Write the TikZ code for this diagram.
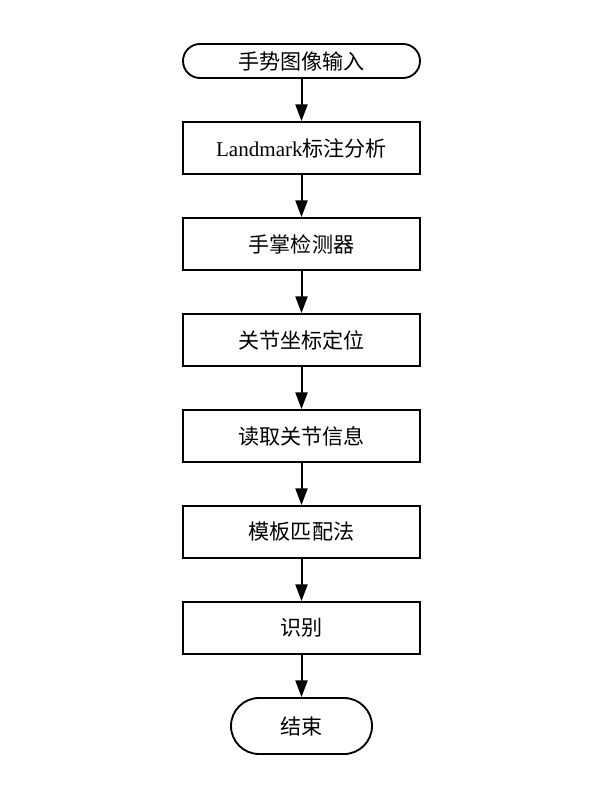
\documentclass[tikz,border=0pt]{standalone}
\usepackage{fontspec}
\setmainfont{Liberation Serif}
\newfontfamily\cjk{Noto Sans CJK SC}
\usepackage{tikz}
\usetikzlibrary{positioning,arrows.meta}

\begin{document}
\begin{tikzpicture}[x=0.75pt, y=-0.75pt,
    node distance=31.6pt,
    every node/.style={font=\cjk\fontsize{15.8}{18}\selectfont},
    procbox/.style={draw, line width=1.4pt, minimum width=177.75pt, minimum height=39pt, inner sep=0pt},
    startbox/.style={draw, line width=1.4pt, rounded corners=12.75pt, minimum width=177.75pt, minimum height=25.5pt, inner sep=0pt},
    stopbox/.style={draw, line width=1.4pt, rounded corners=21pt, minimum width=105.75pt, minimum height=42pt, inner sep=0pt},
    flow/.style={line width=1.5pt, -{Triangle[width=9pt, length=12.5pt]}}]

    % Page frame
    \useasboundingbox (0,0) rectangle (594,795);

    % Terminal at the top
    \node[startbox] (input) at (301.5,61) {手势图像输入};

    % Process steps
    \node[procbox, below=of input] (landmark) {{\rmfamily Landmark}标注分析};
    \node[procbox, below=of landmark] (palm) {手掌检测器};
    \node[procbox, below=of palm] (joint) {关节坐标定位};
    \node[procbox, below=of joint] (readinfo) {读取关节信息};
    \node[procbox, below=of readinfo] (template) {模板匹配法};
    \node[procbox, below=of template] (recog) {识别};

    % Terminal at the bottom
    \node[stopbox, below=of recog] (stop) {结束};

    % Connect the steps
    \foreach \a/\b in {input/landmark, landmark/palm, palm/joint, joint/readinfo,
                       readinfo/template, template/recog, recog/stop} {
      \draw[flow] (\a) -- (\b);
    }

\end{tikzpicture}
\end{document}
